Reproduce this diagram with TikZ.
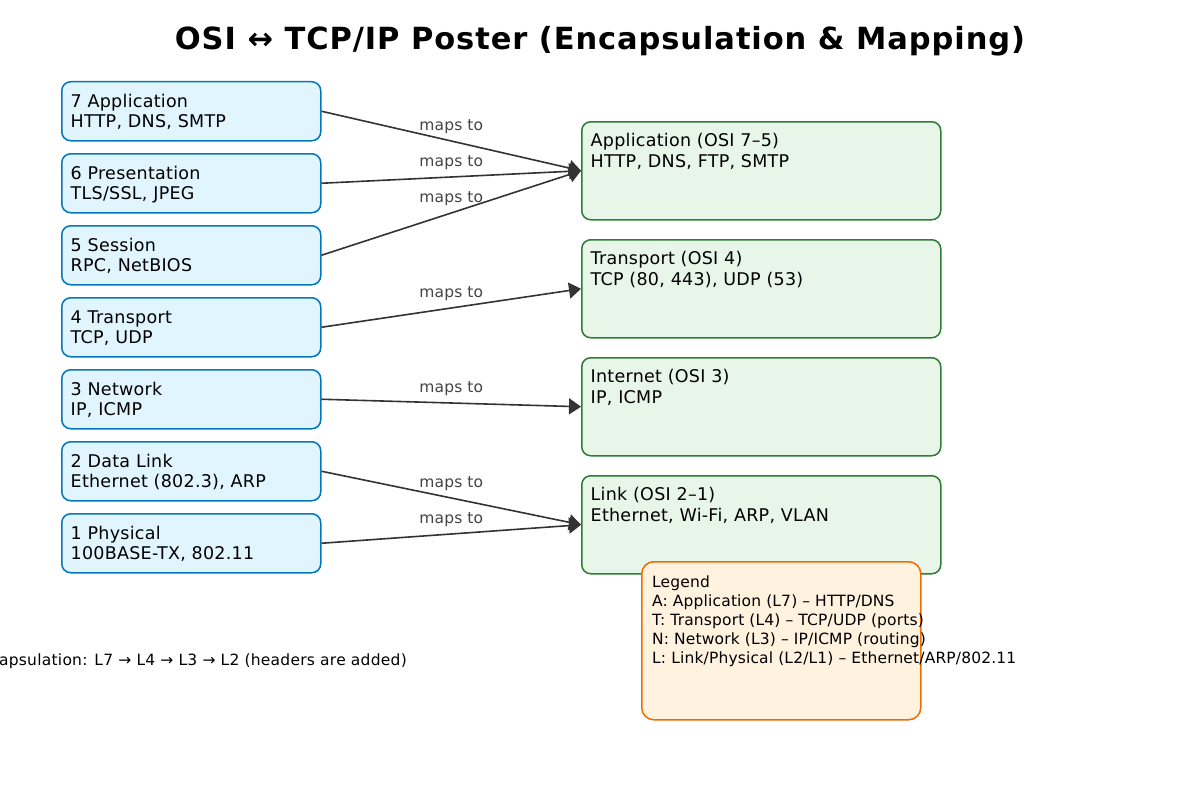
\documentclass[tikz,border=0pt]{standalone}
\usepackage{fontspec}
\setmainfont{DejaVu Sans}
\usetikzlibrary{arrows.meta}
\definecolor{lfill}{HTML}{E1F5FE}
\definecolor{ldraw}{HTML}{0277BD}
\definecolor{rfill}{HTML}{E8F5E9}
\definecolor{rdraw}{HTML}{2E7D32}
\definecolor{gfill}{HTML}{FFF3E0}
\definecolor{gdraw}{HTML}{EF6C00}
\definecolor{arr}{HTML}{333333}
\definecolor{lab}{HTML}{444444}
\newfontfamily\titlefont[LetterSpace=3]{DejaVu Sans}
\newfontfamily\boxfont[LetterSpace=1.5]{DejaVu Sans}
\newfontfamily\smallfont[LetterSpace=1]{DejaVu Sans}
\newfontfamily\notefont[LetterSpace=1.6]{DejaVu Sans}
\tikzset{
  osibox/.style={draw=ldraw, fill=lfill, line width=1.5pt, rounded corners=9pt,
    minimum width=259pt, minimum height=59pt, inner sep=0pt, anchor=north west},
  tcpbox/.style={draw=rdraw, fill=rfill, line width=1.5pt, rounded corners=9pt,
    minimum width=359pt, minimum height=98pt, inner sep=0pt, anchor=north west},
  legbox/.style={draw=gdraw, fill=gfill, line width=1.5pt, rounded corners=12pt,
    minimum width=279pt, minimum height=158pt, inner sep=0pt, anchor=north west},
  boxtxt/.style={font=\boxfont\fontsize{17.5}{20.7}\selectfont, anchor=base west, inner sep=0pt},
  legtxt/.style={font=\smallfont\fontsize{15.5}{19}\selectfont, anchor=base west, inner sep=0pt},
  notetxt/.style={font=\notefont\fontsize{15.5}{19}\selectfont, anchor=base east, inner sep=0pt},
  maparrow/.style={draw=arr, line width=1.6pt, -{Triangle[length=12pt,width=16pt]}},
  maplabel/.style={font=\smallfont\fontsize{15.5}{17}\selectfont, text=lab, inner sep=0pt},
}
\begin{document}
\begin{tikzpicture}[x=1pt,y=-1pt]
\useasboundingbox (0,0) rectangle (1200,800);
\clip (0,0) rectangle (1200,800);
\fill[white] (0,0) rectangle (1200,800);

\node[font=\titlefont\bfseries\fontsize{30.5}{36}\selectfont, anchor=base] (title) at (600,50)
  {OSI ↔ TCP/IP Poster (Encapsulation \& Mapping)};

% OSI layers
\foreach \n/\y/\a/\b in {7/81/7 Application/{HTTP, DNS, SMTP},
                         6/153/6 Presentation/{TLS/SSL, JPEG},
                         5/225/5 Session/{RPC, NetBIOS},
                         4/297/4 Transport/{TCP, UDP},
                         3/369/3 Network/{IP, ICMP},
                         2/441/2 Data Link/{Ethernet (802.3), ARP},
                         1/513/1 Physical/{100BASE-TX, 802.11}}{
  \node[osibox] (l\n) at (61,\y) {};
  \node[boxtxt] (l\n a) at ([shift={(9.5,26)}]l\n.north west) {\a};
  \node[boxtxt] (l\n b) at ([shift={(9.5,46.6)}]l\n.north west) {\b};
}

% TCP/IP layers
\foreach \n/\y/\a/\b in {app/121/{Application (OSI 7–5)}/{HTTP, DNS, FTP, SMTP},
                         tra/239/{Transport (OSI 4)}/{TCP (80, 443), UDP (53)},
                         int/357/{Internet (OSI 3)}/{IP, ICMP},
                         lnk/475/{Link (OSI 2–1)}/{Ethernet, Wi-Fi, ARP, VLAN}}{
  \node[tcpbox] (\n) at (581,\y) {};
  \node[boxtxt] (\n a) at ([shift={(9.5,25.5)}]\n.north west) {\a};
  \node[boxtxt] (\n b) at ([shift={(9.5,46.2)}]\n.north west) {\b};
}

% mappings
\foreach \s/\t in {l7/app, l6/app, l5/app, l4/tra, l3/int, l2/lnk, l1/lnk}{
  \draw[maparrow] (\s.east) -- (\t.west)
    node[maplabel, midway, yshift=14.5pt] (m\s) {maps to};
}

% legend
\node[legbox] (legend) at (641,561) {};
\node[legtxt] (lg0) at ([shift={(11,26)}]legend.north west) {Legend};
\node[legtxt] (lg1) at ([shift={(11,45)}]legend.north west) {A: Application (L7) – HTTP/DNS};
\node[legtxt] (lg2) at ([shift={(11,64)}]legend.north west) {T: Transport (L4) – TCP/UDP (ports)};
\node[legtxt] (lg3) at ([shift={(11,83)}]legend.north west) {N: Network (L3) – IP/ICMP (routing)};
\node[legtxt] (lg4) at ([shift={(11,102)}]legend.north west) {L: Link/Physical (L2/L1) – Ethernet/ARP/802.11};

% encapsulation note (cut off at the left edge, as in the reference)
\node[notetxt] (encap) at (407,665)
  {Encapsulation: L7 → L4 → L3 → L2 (headers are added)};
\end{tikzpicture}
\end{document}
